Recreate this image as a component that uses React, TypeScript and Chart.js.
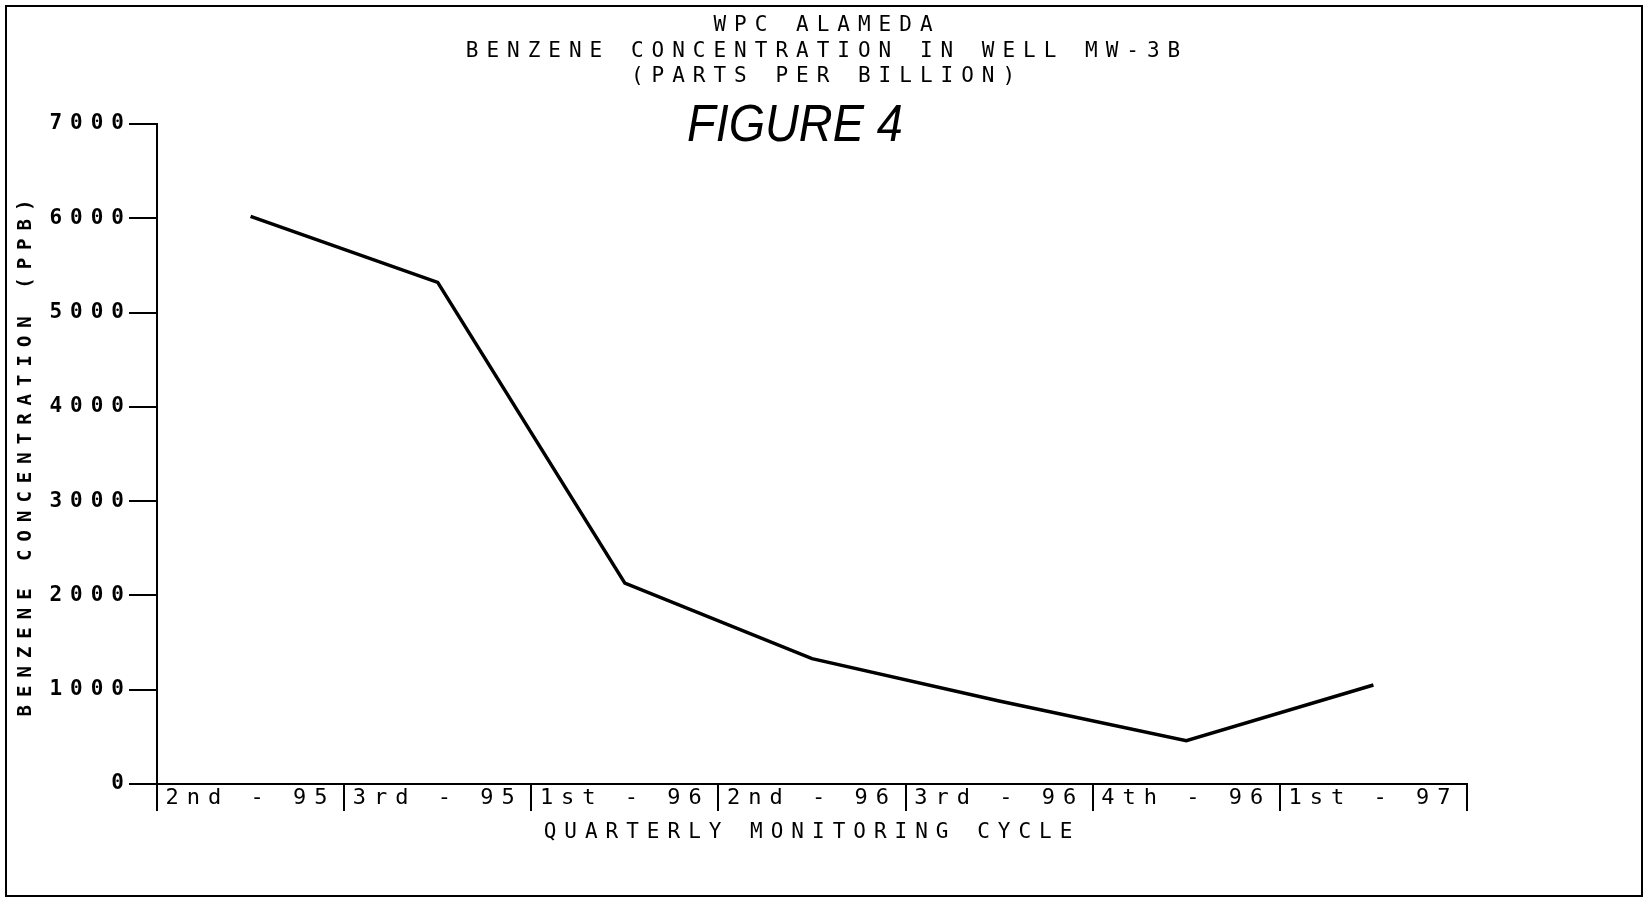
import React, { useEffect, useRef } from 'react';
import { Chart, registerables } from 'chart.js';

Chart.register(...registerables);

const categories = ['2nd - 95', '3rd - 95', '1st - 96', '2nd - 96', '3rd - 96', '4th - 96', '1st - 97'];
const benzene = [6020, 5320, 2130, 1330, 880, 460, 1050];
const yMin = 0;
const yMax = 7000;
const yStep = 1000;
const titleLines = ['WPC ALAMEDA', 'BENZENE CONCENTRATION IN WELL MW-3B', '(PARTS PER BILLION)'];
const figureLabel = 'FIGURE 4';
const xTitle = 'QUARTERLY MONITORING CYCLE';
const yTitle = 'BENZENE CONCENTRATION (PPB)';

const MONO = "'DejaVu Sans Mono', 'Liberation Mono', monospace";

const spacingPlugin = {
  id: 'letterSpacing',
  beforeUpdate(chart: any) {
    (chart.ctx as any).letterSpacing = '8px';
  },
  beforeLayout(chart: any) {
    (chart.ctx as any).letterSpacing = '8px';
  },
  beforeDraw(chart: any) {
    (chart.ctx as any).letterSpacing = '8px';
  },
};

const figurePlugin = {
  id: 'figureLabel',
  afterDraw(chart: any) {
    const ctx = chart.ctx as any;
    const area = chart.chartArea;
    ctx.save();
    ctx.letterSpacing = '0px';
    ctx.font = "italic 52px 'Liberation Sans', Arial, sans-serif";
    ctx.fillStyle = '#000';
    ctx.textAlign = 'center';
    ctx.textBaseline = 'alphabetic';
    const x = area.left + (area.right - area.left) * 0.487;
    const y = area.top + 17;
    ctx.translate(x, y);
    ctx.scale(0.9, 1);
    ctx.fillText(figureLabel, 0, 0);
    ctx.restore();
  },
};

export default function App() {
  const canvasRef = useRef<HTMLCanvasElement | null>(null);

  useEffect(() => {
    if (!canvasRef.current) return;
    const chart = new Chart(canvasRef.current, {
      type: 'line',
      data: {
        labels: categories,
        datasets: [
          {
            label: 'Benzene',
            data: benzene,
            borderColor: '#000',
            backgroundColor: '#000',
            borderWidth: 3.5,
            pointRadius: 0,
            tension: 0,
            fill: false,
            yAxisID: 'y',
          },
        ],
      },
      options: {
        responsive: false,
        animation: false,
        color: '#000',
        layout: { padding: { left: 15, right: 7, top: 0, bottom: 56 } },
        plugins: {
          legend: { display: false },
          tooltip: { enabled: false },
          title: {
            display: true,
            text: titleLines,
            color: '#000',
            font: { family: MONO, size: 21, weight: 'normal', lineHeight: 1.2 },
            padding: { top: 13.4, bottom: 35 },
          },
        },
        scales: {
          x: {
            type: 'category',
            offset: true,
            grid: {
              display: true,
              offset: true,
              drawOnChartArea: false,
              drawTicks: true,
              tickLength: 27,
              color: '#000',
              lineWidth: 2,
            },
            border: { display: true, color: '#000', width: 2 },
            ticks: {
              color: '#000',
              font: { family: MONO, size: 22, lineHeight: 1.2 },
              padding: -26,
              maxRotation: 0,
              minRotation: 0,
              autoSkip: false,
            },
            title: {
              display: true,
              text: xTitle,
              color: '#000',
              font: { family: MONO, size: 21, lineHeight: 1.2 },
              padding: { top: 0, bottom: 0 },
            },
            afterFit: (scale: any) => {
              scale.height = 61;
            },
          },
          y: {
            type: 'linear',
            position: 'left',
            min: yMin,
            max: yMax,
            ticks: {
              stepSize: yStep,
              color: '#000',
              font: { family: MONO, size: 21, weight: 'bold', lineHeight: 1.2 },
              padding: -3,
              callback: (value: any) => String(value),
            },
            grid: {
              display: true,
              drawOnChartArea: false,
              drawTicks: true,
              tickLength: 28,
              color: '#000',
              lineWidth: 2,
            },
            border: { display: true, color: '#000', width: 2 },
            title: {
              display: true,
              text: yTitle,
              color: '#000',
              font: { family: MONO, size: 19, weight: 'bold', lineHeight: 1.2 },
              padding: { top: 0, bottom: 0 },
            },
            afterFit: (scale: any) => {
              scale.width = 142;
            },
          },
          y2: {
            type: 'linear',
            position: 'right',
            display: true,
            grid: { display: false },
            border: { display: false },
            ticks: { display: false },
            afterFit: (scale: any) => {
              scale.width = 172;
            },
          },
        },
      },
      plugins: [spacingPlugin, figurePlugin],
    } as any);
    return () => {
      chart.destroy();
    };
  }, []);

  return (
    <div
      style={{
        position: 'fixed',
        left: 0,
        top: 0,
        width: 1646,
        height: 901,
        background: '#fff',
      }}
    >
      <canvas ref={canvasRef} width={1646} height={901} style={{ display: 'block' }} />
      <div
        style={{
          position: 'absolute',
          left: 5,
          top: 5,
          width: 1634,
          height: 888,
          border: '2px solid #000',
          pointerEvents: 'none',
        }}
      />
    </div>
  );
}
